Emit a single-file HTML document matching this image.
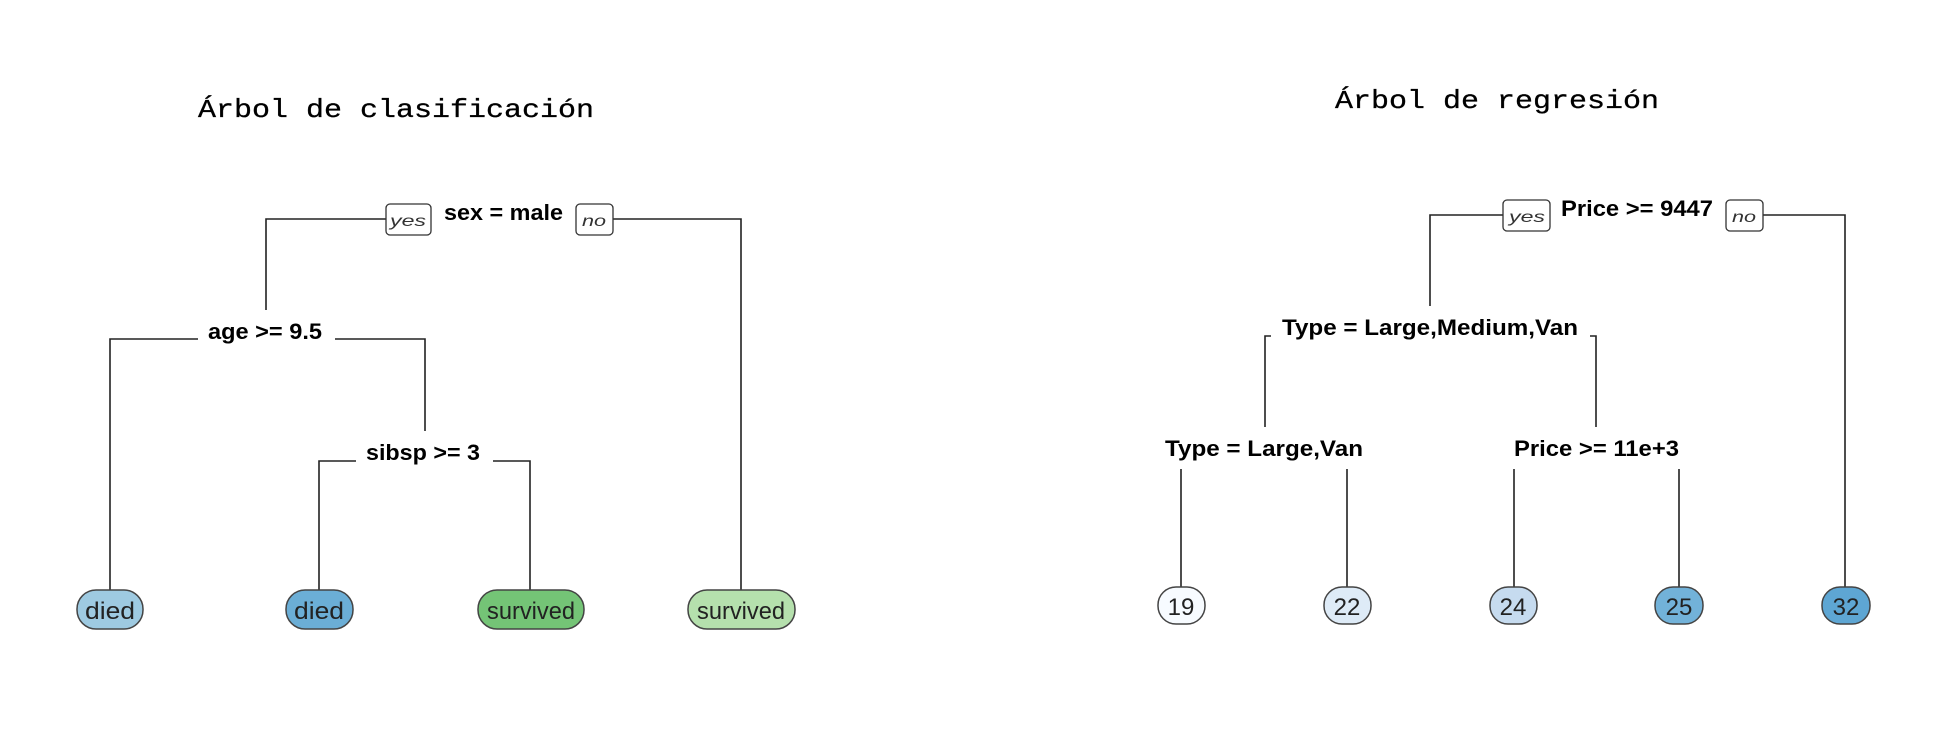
<!DOCTYPE html>
<html><head><meta charset="utf-8"><style>
html,body{margin:0;padding:0;background:#fff;}
svg{display:block;}
.t{font-family:"Liberation Mono",monospace;font-size:26px;fill:#000;stroke:#000;stroke-width:0.3;}
.b{font-family:"Liberation Sans",sans-serif;font-weight:bold;font-size:22px;fill:#000;}
.i{font-family:"Liberation Sans",sans-serif;font-style:italic;font-size:16px;fill:#333;}
.l{font-family:"Liberation Sans",sans-serif;font-size:24px;fill:#222;}
line,polyline{stroke:#222;stroke-width:1.6;fill:none;}
.box{fill:#fff;stroke:#333;stroke-width:1.3;}
.lf{stroke:#444;stroke-width:1.5;}
</style></head><body>
<svg width="1942" height="732" viewBox="0 0 1942 732" xmlns="http://www.w3.org/2000/svg">
<!-- LEFT -->
<text class="t" x="198" y="117" textLength="396" lengthAdjust="spacingAndGlyphs">Árbol de clasificación</text>
<polyline points="386,219 266,219 266,310"/>
<polyline points="613,219 741,219 741,592"/>
<rect class="box" x="386" y="204" width="45" height="31" rx="4"/>
<text class="i" x="390" y="226" textLength="36" lengthAdjust="spacingAndGlyphs">yes</text>
<rect class="box" x="576" y="204" width="37" height="31" rx="4"/>
<text class="i" x="582" y="226" textLength="24" lengthAdjust="spacingAndGlyphs">no</text>
<text class="b" x="444" y="220" textLength="119" lengthAdjust="spacingAndGlyphs">sex = male</text>

<polyline points="198,339 110,339 110,592"/>
<polyline points="335,339 425,339 425,431"/>
<text class="b" x="208" y="339" textLength="114" lengthAdjust="spacingAndGlyphs">age &gt;= 9.5</text>

<polyline points="356,461 319,461 319,592"/>
<polyline points="493,461 530,461 530,592"/>
<text class="b" x="366" y="460" textLength="114" lengthAdjust="spacingAndGlyphs">sibsp &gt;= 3</text>

<rect class="lf" x="77" y="590" width="66" height="39" rx="19" fill="#9ecae1"/>
<text class="l" x="110" y="619" text-anchor="middle" textLength="50" lengthAdjust="spacingAndGlyphs">died</text>
<rect class="lf" x="286" y="590" width="67" height="39" rx="19" fill="#6baed6"/>
<text class="l" x="319" y="619" text-anchor="middle" textLength="50" lengthAdjust="spacingAndGlyphs">died</text>
<rect class="lf" x="478" y="590" width="106" height="39" rx="19" fill="#74c476"/>
<text class="l" x="531" y="619" text-anchor="middle" textLength="88" lengthAdjust="spacingAndGlyphs">survived</text>
<rect class="lf" x="688" y="590" width="107" height="39" rx="19" fill="#b5e0ad"/>
<text class="l" x="741" y="619" text-anchor="middle" textLength="88" lengthAdjust="spacingAndGlyphs">survived</text>

<!-- RIGHT -->
<text class="t" x="1335" y="108" textLength="324" lengthAdjust="spacingAndGlyphs">Árbol de regresión</text>
<polyline points="1503,215 1430,215 1430,306"/>
<polyline points="1763,215 1845,215 1845,590"/>
<rect class="box" x="1503" y="200" width="47" height="31" rx="4"/>
<text class="i" x="1509" y="222" textLength="36" lengthAdjust="spacingAndGlyphs">yes</text>
<rect class="box" x="1726" y="200" width="37" height="31" rx="4"/>
<text class="i" x="1732" y="222" textLength="24" lengthAdjust="spacingAndGlyphs">no</text>
<text class="b" x="1561" y="216" textLength="152" lengthAdjust="spacingAndGlyphs">Price &gt;= 9447</text>

<polyline points="1271,336 1265,336 1265,427"/>
<polyline points="1590,336 1596,336 1596,427"/>
<text class="b" x="1282" y="335" textLength="296" lengthAdjust="spacingAndGlyphs">Type = Large,Medium,Van</text>

<text class="b" x="1165" y="456" textLength="198" lengthAdjust="spacingAndGlyphs">Type = Large,Van</text>
<text class="b" x="1514" y="456" textLength="165" lengthAdjust="spacingAndGlyphs">Price &gt;= 11e+3</text>
<line x1="1181" y1="469" x2="1181" y2="589"/>
<line x1="1347" y1="469" x2="1347" y2="589"/>
<line x1="1514" y1="469" x2="1514" y2="589"/>
<line x1="1679" y1="469" x2="1679" y2="589"/>

<rect class="lf" x="1158" y="587" width="47" height="37" rx="18" fill="#f7fbff"/>
<text class="l" x="1181" y="615" text-anchor="middle">19</text>
<rect class="lf" x="1324" y="587" width="47" height="37" rx="18" fill="#deebf7"/>
<text class="l" x="1347" y="615" text-anchor="middle">22</text>
<rect class="lf" x="1490" y="587" width="47" height="37" rx="18" fill="#c6dbef"/>
<text class="l" x="1513" y="615" text-anchor="middle">24</text>
<rect class="lf" x="1655" y="587" width="48" height="37" rx="18" fill="#72b2d9"/>
<text class="l" x="1679" y="615" text-anchor="middle">25</text>
<rect class="lf" x="1822" y="587" width="48" height="37" rx="18" fill="#5ea6d3"/>
<text class="l" x="1846" y="615" text-anchor="middle">32</text>
</svg>
</body></html>
